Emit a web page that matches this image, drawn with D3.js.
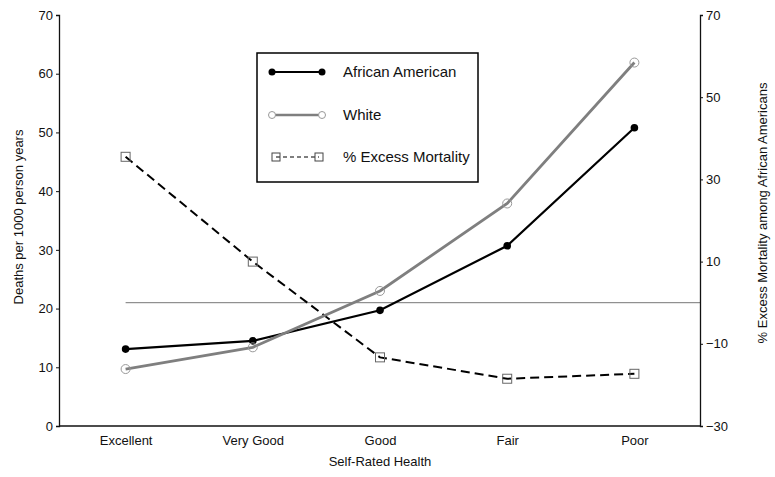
<!DOCTYPE html>
<html>
<head>
<meta charset="utf-8">
<script src="https://cdn.jsdelivr.net/npm/d3@7"></script>
<style>
body{margin:0;background:#fff;}
svg text{font-family:"Liberation Sans",Arial,sans-serif;fill:#111;}
</style>
</head>
<body>
<svg id="chart" width="775" height="477"></svg>
<script>
// data
const categories=["Excellent","Very Good","Good","Fair","Poor"];
const africanAmerican=[13.1,14.5,19.7,30.7,50.8];
const white=[9.7,13.4,23.0,37.9,61.9];
const excessMortality=[35.5,10.0,-13.3,-18.5,-17.3];
const leftTicks=[0,10,20,30,40,50,60,70];
const rightTicks=[-30,-10,10,30,50,70];

const svg=d3.select('#chart');
const plotLeft=59,plotRight=700,plotTop=15,plotBottom=426;

const x=d3.scalePoint().domain(categories).range([62,698]).padding(0.5);
const yL=d3.scaleLinear().domain([0,70]).range([plotBottom,plotTop]);
const yR=d3.scaleLinear().domain([-30,70]).range([plotBottom,plotTop]);

// zero line of right axis
svg.append('line')
 .attr('x1',x(categories[0])).attr('x2',plotRight)
 .attr('y1',yR(0)).attr('y2',yR(0))
 .attr('stroke','#777').attr('stroke-width',1);

// axes
const gL=svg.append('g').attr('transform','translate('+plotLeft+',0)')
 .call(d3.axisLeft(yL).tickValues(leftTicks).tickSize(3).tickPadding(3));
const gR=svg.append('g').attr('transform','translate('+plotRight+',0)')
 .call(d3.axisRight(yR).tickValues(rightTicks).tickSize(3).tickPadding(3));
const gX=svg.append('g').attr('transform','translate(0,'+plotBottom+')')
 .call(d3.axisBottom(x).tickSize(0).tickPadding(10));
gX.select('.domain').attr('d','M'+plotLeft+',0H'+plotRight);
[gL,gR,gX].forEach(g=>{
  g.selectAll('text').style('font-size','13px').attr('fill','#111');
  g.select('.domain').attr('stroke','#111').attr('stroke-width',1.3);
  g.selectAll('.tick line').attr('stroke','#111');
});

// axis titles
svg.append('text').attr('x',380).attr('y',466).attr('text-anchor','middle')
 .style('font-size','13px').text('Self-Rated Health');
svg.append('text').attr('transform','translate(23,217) rotate(-90)').attr('text-anchor','middle')
 .style('font-size','13px').text('Deaths per 1000 person years');
svg.append('text').attr('transform','translate(767,213) rotate(-90)').attr('text-anchor','middle')
 .style('font-size','13px').text('% Excess Mortality among African Americans');

// series
const lineL=d3.line().x((d,i)=>x(categories[i])).y(d=>yL(d));
const lineR=d3.line().x((d,i)=>x(categories[i])).y(d=>yR(d));

svg.append('path').datum(excessMortality).attr('d',lineR)
 .attr('fill','none').attr('stroke','#000').attr('stroke-width',2).attr('stroke-dasharray','9,5');
svg.append('path').datum(africanAmerican).attr('d',lineL)
 .attr('fill','none').attr('stroke','#000').attr('stroke-width',2.2);
svg.append('path').datum(white).attr('d',lineL)
 .attr('fill','none').attr('stroke','#7f7f7f').attr('stroke-width',2.8);

svg.selectAll('.aa').data(africanAmerican).join('circle').attr('class','aa')
 .attr('cx',(d,i)=>x(categories[i])).attr('cy',d=>yL(d)).attr('r',3.8).attr('fill','#000');
svg.selectAll('.wh').data(white).join('circle').attr('class','wh')
 .attr('cx',(d,i)=>x(categories[i])).attr('cy',d=>yL(d)).attr('r',4.5)
 .attr('fill','none').attr('stroke','#999').attr('stroke-width',1);
svg.selectAll('.ex').data(excessMortality).join('rect').attr('class','ex')
 .attr('x',(d,i)=>x(categories[i])-4.5).attr('y',d=>yR(d)-4.5).attr('width',9).attr('height',9)
 .attr('fill','none').attr('stroke','#666').attr('stroke-width',1);

// legend
const lg=svg.append('g');
lg.append('rect').attr('x',257).attr('y',53).attr('width',221).attr('height',129)
 .attr('fill','#fff').attr('stroke','#000').attr('stroke-width',1.5);
const items=[
 {name:'African American',y:72},
 {name:'White',y:115},
 {name:'% Excess Mortality',y:157}
];
lg.append('line').attr('x1',272).attr('x2',322).attr('y1',72).attr('y2',72).attr('stroke','#000').attr('stroke-width',2.2);
[272,322].forEach(cx=>lg.append('circle').attr('cx',cx).attr('cy',72).attr('r',3.5).attr('fill','#000'));
lg.append('line').attr('x1',272).attr('x2',322).attr('y1',115).attr('y2',115).attr('stroke','#7f7f7f').attr('stroke-width',2.5);
[272,322].forEach(cx=>lg.append('circle').attr('cx',cx).attr('cy',115).attr('r',3.5)
 .attr('fill','#fff').attr('stroke','#999').attr('stroke-width',1));
lg.append('line').attr('x1',276).attr('x2',319).attr('y1',157).attr('y2',157).attr('stroke','#000')
 .attr('stroke-width',1.2).attr('stroke-dasharray','4,3');
[276,319].forEach(cx=>lg.append('rect').attr('x',cx-4).attr('y',153).attr('width',8).attr('height',8)
 .attr('fill','none').attr('stroke','#444').attr('stroke-width',1));
lg.selectAll('.lt').data(items).join('text').attr('class','lt')
 .attr('x',343).attr('y',d=>d.y+5).style('font-size','15px').text(d=>d.name);
</script>
</body>
</html>
